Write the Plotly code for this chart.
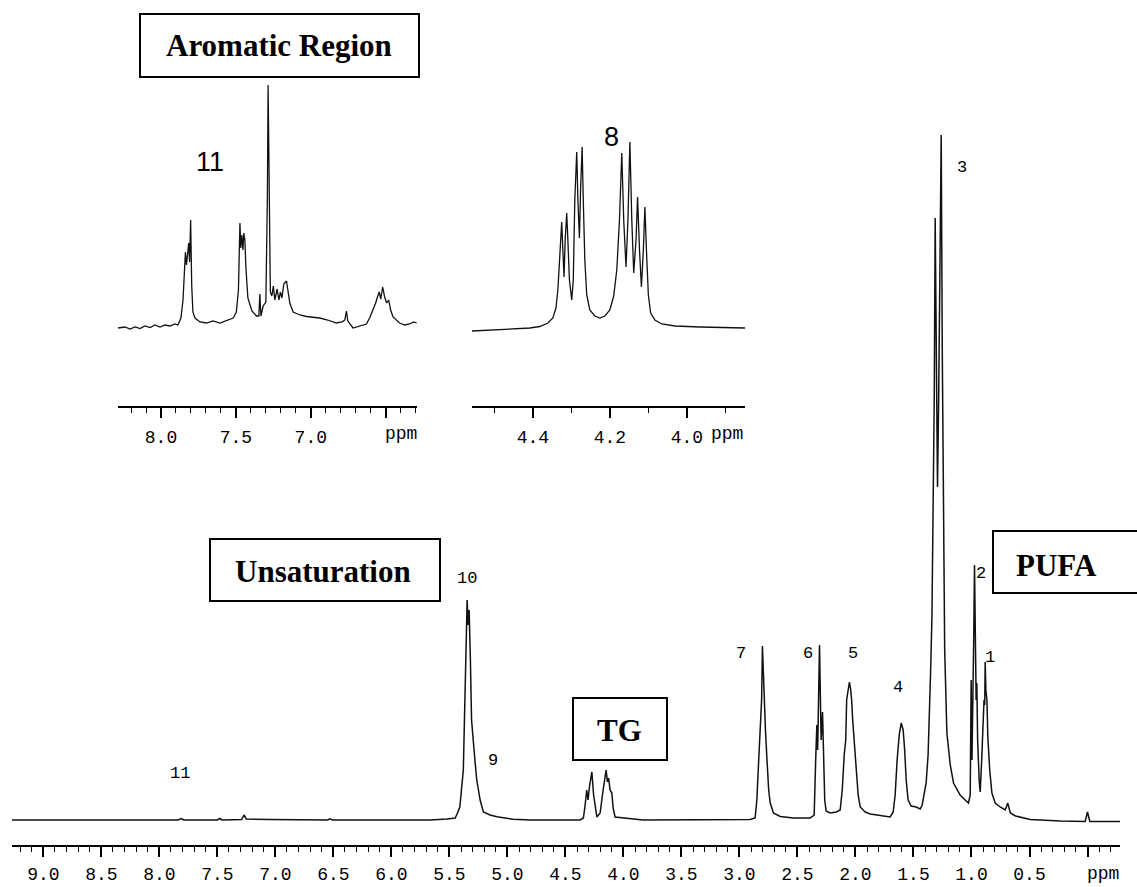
import plotly.graph_objects as go

W, H = 1137, 887

# ---------------- data ----------------
# Main 1H NMR spectrum: chemical shift (ppm) and intensity (a.u.)
main_ppm = [9.27, 8.51, 7.84, 7.81, 7.79, 7.50, 7.48, 7.46, 7.29, 7.27, 7.25, 7.05, 6.79,
            6.55, 6.53, 6.51, 6.10, 5.67, 5.52, 5.45, 5.43, 5.41, 5.38, 5.365, 5.356, 5.347,
            5.339, 5.330, 5.319, 5.309, 5.278, 5.264, 5.235, 5.207, 5.15, 5.09, 4.95, 4.80,
            4.373, 4.345, 4.330, 4.316, 4.305, 4.291, 4.272, 4.257, 4.229, 4.201, 4.175,
            4.149, 4.138, 4.128, 4.115, 4.100, 4.089, 4.072, 3.83, 3.34, 2.91, 2.865, 2.850,
            2.834, 2.822, 2.809, 2.802, 2.793, 2.787, 2.776, 2.764, 2.748, 2.735, 2.707,
            2.649, 2.534, 2.391, 2.356, 2.343, 2.333, 2.326, 2.317, 2.310, 2.302, 2.296,
            2.284, 2.274, 2.265, 2.253, 2.218, 2.166, 2.132, 2.114, 2.106, 2.097, 2.084,
            2.076, 2.063, 2.052, 2.041, 2.033, 2.024, 2.011, 1.994, 1.977, 1.959, 1.916,
            1.873, 1.813, 1.744, 1.701, 1.675, 1.658, 1.641, 1.623, 1.606, 1.589, 1.576,
            1.563, 1.546, 1.520, 1.477, 1.442, 1.425, 1.408, 1.391, 1.374, 1.362, 1.352,
            1.341, 1.330, 1.321, 1.313, 1.304, 1.293, 1.283, 1.274, 1.267, 1.261, 1.252,
            1.241, 1.231, 1.212, 1.183, 1.155, 1.098, 1.055, 1.026, 1.011, 1.003, 0.996,
            0.990, 0.981, 0.974, 0.966, 0.960, 0.954, 0.947, 0.934, 0.925, 0.912, 0.902,
            0.892, 0.886, 0.882, 0.876, 0.867, 0.859, 0.843, 0.824, 0.796, 0.753, 0.709,
            0.688, 0.665, 0.621, 0.494, 0.233, 0.020, 0.000, -0.020, -0.28]
main_int = [0, 0, 0, 1.5, 0, 0, 1.5, 0, 0.5, 5, 1, 0.5, 0,
            0, 1.2, 0, 0, 0, 1, 2, 7, 13, 50, 133, 183, 220,
            195, 210, 160, 100, 57, 40, 20, 8, 5, 3.3, 0.7, 0,
            0, 2, 15, 30, 20, 35, 48, 25, 3, 7, 30,
            50, 38, 42, 30, 27, 12, 3, 0, 0, 0.5, 2, 20,
            60, 90, 120, 174, 140, 123, 90, 63, 30, 17, 7,
            3.5, 2, 2, 5, 60, 95, 70, 120, 175, 120, 80,
            108, 60, 20, 9, 7, 8, 10, 30, 50, 65, 80,
            120, 130, 138, 130, 120, 100, 80, 50, 25, 13, 8,
            6, 5, 4, 3, 8, 25, 60, 85, 97, 90, 70,
            40, 20, 14, 13, 11, 15, 25, 37, 65, 103, 150,
            203, 320, 420, 602, 470, 333, 420, 570, 652, 685, 470,
            260, 170, 87, 55, 37, 25, 20, 17, 25, 140, 60,
            100, 180, 255, 140, 120, 137, 80, 40, 28, 60, 83,
            120, 115, 158, 130, 120, 83, 50, 27, 17, 13, 10,
            17, 7, 4, 0.5, -1, -1.5, 8, -1.5, -1.5]

# Inset 1: aromatic region
aro_ppm = [8.287, 8.24, 8.207, 8.173, 8.14, 8.107, 8.073, 8.04, 8.007, 7.973, 7.94, 7.907,
           7.887, 7.867, 7.853, 7.843, 7.837, 7.83, 7.823, 7.815, 7.809, 7.802, 7.795,
           7.787, 7.773, 7.74, 7.695, 7.653, 7.607, 7.56, 7.518, 7.497, 7.483, 7.473,
           7.467, 7.46, 7.453, 7.447, 7.44, 7.433, 7.42, 7.393, 7.362, 7.347, 7.34,
           7.333, 7.318, 7.30, 7.29, 7.285, 7.279, 7.27, 7.26, 7.25, 7.24, 7.225, 7.213,
           7.203, 7.193, 7.18, 7.162, 7.15, 7.14, 7.118, 7.073, 7.029, 6.987, 6.94,
           6.887, 6.829, 6.793, 6.773, 6.762, 6.753, 6.718, 6.673, 6.629, 6.607, 6.585,
           6.567, 6.553, 6.543, 6.533, 6.52, 6.507, 6.493, 6.48, 6.467, 6.451, 6.427,
           6.407, 6.373, 6.34, 6.313, 6.293]
aro_int = [-1, 0, -2, 0, -1.5, 1, -0.5, 2, 0, 2, 1, 3,
           2, 9, 27, 62, 75, 62, 77, 84, 65, 107, 42,
           15, 9, 5, 4, 6, 4, 7, 9, 15, 37, 104,
           79, 92, 77, 94, 87, 59, 29, 16, 11, 11, 33,
           11, 21, 25, 127, 242, 127, 35, 31, 41, 27, 38, 27,
           35, 29, 43, 46, 32, 24, 15, 12, 10.5, 10, 9,
           7, 4, 5, 7, 16, 6, -1, 1, 3, 9, 17,
           24, 31, 35, 28, 40, 30, 24, 27, 17, 10, 7,
           4, 2, 3, 5, 4]

# Inset 2: glycerol (TG) region
tg_ppm = [4.558, 4.512, 4.46, 4.408, 4.382, 4.361, 4.348, 4.34, 4.335, 4.33, 4.325, 4.322,
          4.319, 4.316, 4.312, 4.309, 4.305, 4.299, 4.295, 4.291, 4.286, 4.283, 4.279,
          4.276, 4.272, 4.269, 4.265, 4.26, 4.252, 4.239, 4.226, 4.213, 4.20, 4.19,
          4.182, 4.175, 4.169, 4.164, 4.158, 4.153, 4.148, 4.143, 4.138, 4.132, 4.128,
          4.123, 4.118, 4.113, 4.109, 4.105, 4.10, 4.094, 4.083, 4.065, 4.031, 3.966,
          3.914, 3.849]
tg_int = [-4, -3, -2, -1, 0.5, 4, 9, 19, 37, 77, 105, 77,
          50, 87, 114, 87, 47, 27, 47, 127, 175, 127, 89,
          137, 180, 127, 67, 32, 17, 11, 9, 11, 17, 31,
          57, 107, 174, 107, 60, 107, 185, 107, 54, 87, 130,
          77, 40, 77, 120, 77, 32, 14, 7, 3, 1, 0,
          -0.5, -1]

# Axis ticks
main_ticks = [9.0, 8.5, 8.0, 7.5, 7.0, 6.5, 6.0, 5.5, 5.0, 4.5, 4.0, 3.5, 3.0, 2.5,
              2.0, 1.5, 1.0, 0.5, 0.0]
main_ticktext = ["9.0", "8.5", "8.0", "7.5", "7.0", "6.5", "6.0", "5.5", "5.0", "4.5",
                 "4.0", "3.5", "3.0", "2.5", "2.0", "1.5", "1.0", "0.5", ""]
aro_ticks = [8.0, 7.5, 7.0, 6.5]
aro_ticktext = ["8.0", "7.5", "7.0", ""]
tg_ticks = [4.4, 4.2, 4.0]
tg_ticktext = ["4.4", "4.2", "4.0"]

# Peak numbers (text) and region titles
peak_labels = ["11", "10", "9", "7", "6", "5", "4", "3", "2", "1"]
inset_labels = ["11", "8"]
box_titles = ["Aromatic Region", "Unsaturation", "TG", "PUFA"]

# ---------------- layout helpers (pixel positions) ----------------
def px(x):
    return x / W

def py(y):
    return 1 - y / H

MONO = "Liberation Mono"
SERIF = "Liberation Serif"
SANS = "Liberation Sans"

fig = go.Figure()
fig.add_trace(go.Scatter(x=main_ppm, y=main_int, mode="lines", line=dict(color="#111111", width=1.5),
                         xaxis="x", yaxis="y", hoverinfo="skip", showlegend=False))
fig.add_trace(go.Scatter(x=aro_ppm, y=aro_int, mode="lines", line=dict(color="#111111", width=1.3),
                         xaxis="x2", yaxis="y2", hoverinfo="skip", showlegend=False))
fig.add_trace(go.Scatter(x=tg_ppm, y=tg_int, mode="lines", line=dict(color="#111111", width=1.3),
                         xaxis="x3", yaxis="y3", hoverinfo="skip", showlegend=False))

def xaxis_style(domain, rng, ticks, ticktext, anchor, minor_dtick, standoff):
    return dict(
        domain=domain, range=rng, autorange=False, anchor=anchor,
        tickmode="array", tickvals=ticks, ticktext=ticktext,
        ticks="outside", ticklen=10, tickwidth=1.5, tickcolor="black",
        showline=True, linecolor="black", linewidth=1.5,
        showgrid=False, zeroline=False, automargin=False,
        ticklabelstandoff=standoff,
        tickfont=dict(family=MONO, size=18, color="black"),
        minor=dict(tickmode="linear", tick0=0, dtick=minor_dtick, ticks="outside",
                   ticklen=5, tickwidth=1.2, tickcolor="black", showgrid=False),
    )

def yaxis_style(domain, rng, anchor):
    return dict(domain=domain, range=rng, autorange=False, anchor=anchor,
                visible=False, showgrid=False, zeroline=False, fixedrange=True)

main_bottom, main_top = 845, 0
ins_bottom, ins_top = 406, 80

fig.update_layout(
    width=W, height=H,
    margin=dict(l=0, r=0, t=0, b=0),
    paper_bgcolor="white", plot_bgcolor="rgba(0,0,0,0)",
    showlegend=False,
    xaxis=xaxis_style([px(12), px(1120)], [9.27, -0.28], main_ticks, main_ticktext, "y", 0.1, 2),
    yaxis=yaxis_style([py(main_bottom), py(main_top)], [-25, 820], "x"),
    xaxis2=xaxis_style([px(118), px(417.3)], [8.287, 6.289], aro_ticks, aro_ticktext, "y2", 0.1, 4),
    yaxis2=yaxis_style([py(ins_bottom), py(ins_top)], [-79, 247], "x2"),
    xaxis3=xaxis_style([px(472), px(745)], [4.558, 3.849], tg_ticks, tg_ticktext, "y3", 0.1, 4),
    yaxis3=yaxis_style([py(ins_bottom), py(ins_top)], [-79, 247], "x3"),
)

annotations = []
def txt(text, x, y, family, size, bold=False):
    annotations.append(dict(
        text=f"<b>{text}</b>" if bold else text,
        x=px(x), y=py(y), xref="paper", yref="paper",
        xanchor="center", yanchor="middle", showarrow=False,
        font=dict(family=family, size=size, color="black")))

# axis unit labels
txt("ppm", 1103, 874, MONO, 18)
txt("ppm", 401, 434, MONO, 18)
txt("ppm", 727, 434, MONO, 18)

# peak numbers on main spectrum
peak_label_pos = [(180, 773), (467, 578), (493, 760), (741, 653), (808, 653), (853, 653),
                  (898, 687), (962, 168), (981, 573), (990, 657)]
for lab, (x, y) in zip(peak_labels, peak_label_pos):
    txt(lab, x, y, MONO, 17)

# inset numbers
for lab, (x, y) in zip(inset_labels, [(210, 162), (611, 137)]):
    txt(lab, x, y, SANS, 27)

# titled boxes
boxes = [(140, 14, 419, 77), (210, 539, 440, 601), (573, 698, 667, 760), (993, 531, 1160, 593)]
centers = [(279, 46), (323, 571), (619, 730), (1056, 565)]
shapes = []
for title, (x0, y0, x1, y1), (cx, cy) in zip(box_titles, boxes, centers):
    shapes.append(dict(type="rect", xref="paper", yref="paper",
                       x0=px(x0), x1=px(x1), y0=py(y1), y1=py(y0),
                       line=dict(color="black", width=2), fillcolor="white", layer="below"))
    txt(title, cx, cy, SERIF, 31, bold=True)

fig.update_layout(annotations=annotations, shapes=shapes)

fig.write_html("out.html", config={"displayModeBar": False},
               post_script="document.body.style.margin='0';")
